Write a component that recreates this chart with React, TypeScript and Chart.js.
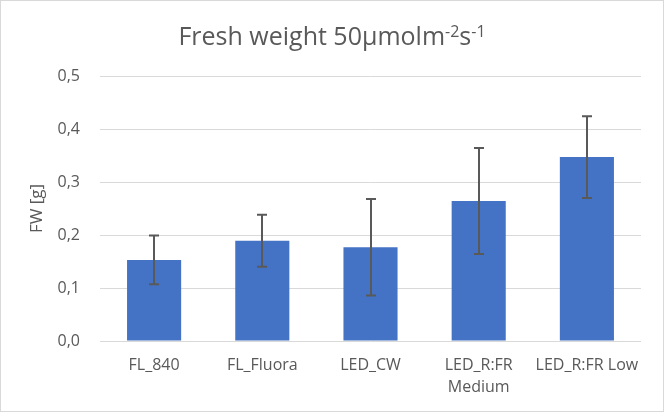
import React, { useEffect, useRef } from "react";
import { Chart, registerables } from "chart.js";

Chart.register(...registerables);

const categories: (string | string[])[] = ["FL_840", "FL_Fluora", "LED_CW", ["LED_R:FR", "Medium"], "LED_R:FR Low"];
const freshWeight: number[] = [0.153, 0.189, 0.177, 0.264, 0.347];
const errors: number[] = [0.046, 0.049, 0.091, 0.1, 0.077];
// title pieces: [text, isSuperscript]
const titleParts: [string, boolean][] = [
  ["Fresh weight 50µmolm", false],
  ["-2", true],
  ["s", false],
  ["-1", true],
];
const yAxisTitle = "FW [g]";

const FONT = "'Open Sans', 'Noto Sans', sans-serif";
const TEXT = "#595959";

const errorBarPlugin = {
  id: "errorBars",
  afterDatasetsDraw(chart: any) {
    const { ctx, scales } = chart;
    const x = scales.x;
    const y = scales.y;
    ctx.save();
    ctx.strokeStyle = "#595959";
    ctx.lineWidth = 2;
    freshWeight.forEach((v, i) => {
      const px = Math.round(x.getPixelForValue(i));
      const top = y.getPixelForValue(v + errors[i]);
      const bot = y.getPixelForValue(v - errors[i]);
      ctx.beginPath();
      ctx.moveTo(px, top);
      ctx.lineTo(px, bot);
      ctx.moveTo(px - 5, top);
      ctx.lineTo(px + 5, top);
      ctx.moveTo(px - 5, bot);
      ctx.lineTo(px + 5, bot);
      ctx.stroke();
    });
    ctx.restore();
  },
};

const borderPlugin = {
  id: "outerBorder",
  beforeDraw(chart: any) {
    const { ctx, width, height } = chart;
    ctx.save();
    ctx.fillStyle = "#ffffff";
    ctx.fillRect(0, 0, width, height);
    ctx.strokeStyle = "#d9d9d9";
    ctx.lineWidth = 1;
    ctx.strokeRect(0.5, 0.5, width - 1, height - 1);
    ctx.restore();
  },
};

const titlePlugin = {
  id: "richTitle",
  afterDraw(chart: any) {
    const { ctx, width } = chart;
    const mainFont = `25px ${FONT}`;
    const supFont = `16px ${FONT}`;
    ctx.save();
    ctx.fillStyle = TEXT;
    ctx.textBaseline = "alphabetic";
    ctx.textAlign = "left";
    let total = 0;
    const widths = titleParts.map(([t, sup]) => {
      ctx.font = sup ? supFont : mainFont;
      const w = ctx.measureText(t).width;
      total += w;
      return w;
    });
    let x = (width - total) / 2;
    const baseline = 45;
    titleParts.forEach(([t, sup], i) => {
      ctx.font = sup ? supFont : mainFont;
      ctx.fillText(t, x, sup ? baseline - 8 : baseline);
      x += widths[i];
    });
    ctx.restore();
  },
};

export default function App() {
  const ref = useRef<HTMLCanvasElement | null>(null);
  useEffect(() => {
    document.body.style.margin = "0";
    if (!ref.current) return;
    const chart = new Chart(ref.current, {
      type: "bar",
      data: {
        labels: categories,
        datasets: [
          {
            data: freshWeight,
            backgroundColor: "#4472C4",
            categoryPercentage: 0.5,
            barPercentage: 1,
          },
        ],
      },
      options: {
        animation: false,
        responsive: false,
        layout: { padding: { left: 0, right: 23, top: 76, bottom: 0 } },
        plugins: {
          legend: { display: false },
          tooltip: { enabled: false },
          title: { display: false },
        },
        scales: {
          x: {
            grid: { display: false, drawTicks: false },
            border: { display: false },
            ticks: {
              color: TEXT,
              font: { family: FONT, size: 16, lineHeight: 1.4 },
              padding: 13,
              maxRotation: 0,
              autoSkip: false,
            },
            afterFit(scale: any) {
              scale.height = 71;
            },
          },
          y: {
            min: 0,
            max: 0.5,
            grid: { color: "#d9d9d9", lineWidth: 1, drawTicks: false },
            border: { display: false },
            ticks: {
              stepSize: 0.1,
              color: TEXT,
              font: { family: FONT, size: 16 },
              padding: 20,
              callback: (v: any) => Number(v).toFixed(1).replace(".", ","),
            },
            title: {
              display: true,
              text: yAxisTitle,
              color: TEXT,
              font: { family: FONT, size: 17 },
              padding: { top: 27, bottom: 0 },
            },
            afterFit(scale: any) {
              scale.width = 100;
            },
          },
        },
      },
      plugins: [borderPlugin, errorBarPlugin, titlePlugin],
    });
    return () => chart.destroy();
  }, []);
  return (
    <div style={{ position: "absolute", left: 0, top: 0 }}>
      <canvas ref={ref} width={664} height={412} style={{ display: "block", width: 664, height: 412 }} />
    </div>
  );
}
